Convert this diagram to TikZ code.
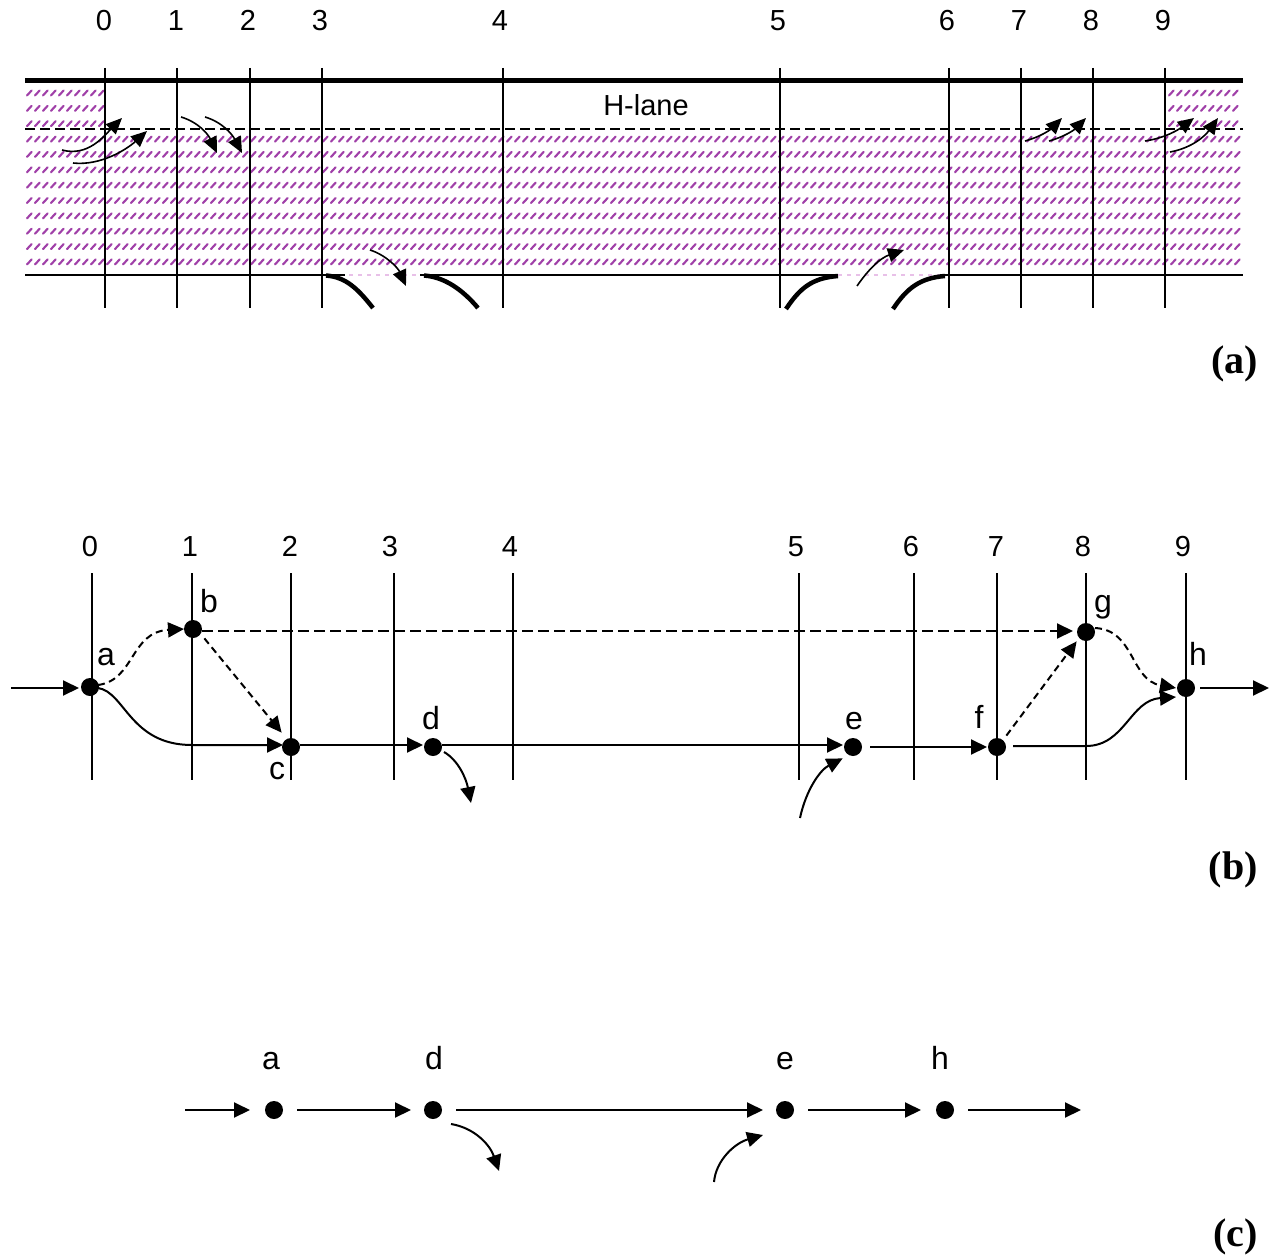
\documentclass[tikz,border=0pt]{standalone}
\usepackage{fontspec}
\setmainfont{Liberation Sans}
\newfontfamily\serifbold[Ligatures=TeX]{Liberation Serif}
\usetikzlibrary{arrows.meta}
\definecolor{hatchc}{HTML}{A040A8}
\definecolor{faintc}{HTML}{E8C0E8}
\tikzset{
  x=1pt,y=-1pt,
  lbl/.style={inner sep=0pt,anchor=base,font=\fontsize{29}{32}\selectfont},
  ltr/.style={inner sep=0pt,anchor=base,font=\fontsize{32}{34}\selectfont},
  panel/.style={inner sep=0pt,anchor=base east,font=\serifbold\bfseries\fontsize{40}{43}\selectfont},
  grid/.style={line width=2pt,black},
  dot/.style={circle,fill=black,draw=none,minimum size=18pt,inner sep=0pt,outer sep=0pt},
  flow/.style={line width=2pt,-{Triangle[length=16pt,width=15pt]}},
  dflow/.style={flow,dash pattern=on 7pt off 4.5pt},
  lflow/.style={flow,dash pattern=on 11pt off 5pt},
  mini/.style={line width=1.6pt,-{Triangle[length=16pt,width=14pt]}},
  hatch/.style={line width=2.1pt,hatchc,line cap=round},
}
\begin{document}
\begin{tikzpicture}
\useasboundingbox (0,0) rectangle (1270,1255);
% ---------- hatching (a)
\foreach \k in {0,1,2}{
  \pgfmathsetmacro{\yy}{93+15.36*\k}
  \foreach \xx in {27,35,...,99}{\draw[hatch] (\xx,\yy+2.5) -- (\xx+4.6,\yy-2.5);}
  \foreach \xx in {1169,1177,...,1237}{\draw[hatch] (\xx,\yy+2.5) -- (\xx+4.6,\yy-2.5);}
}
\foreach \k in {3,...,11}{
  \pgfmathsetmacro{\yy}{93+15.36*\k}
  \foreach \xx in {27,35,...,1237}{\draw[hatch] (\xx,\yy+2.5) -- (\xx+4.6,\yy-2.5);}
}
% ---------- road (a)
\draw[line width=5pt] (25,80.5) -- (1243,80.5);
\draw[line width=1.7pt,black,dash pattern=on 10pt off 5pt] (25,129) -- (1243,129);
\draw[line width=1.2pt,faintc,dash pattern=on 4pt off 5pt] (340,275) -- (420,275);
\draw[line width=1.2pt,faintc,dash pattern=on 4pt off 5pt] (838,275) -- (945,275);
\draw[line width=2pt] (25,275) -- (345,275);
\draw[line width=2pt] (420,275) -- (838,275);
\draw[line width=2pt] (945,275) -- (1243,275);
\draw[line width=4.5pt] (326,275.5) .. controls (346,277) and (358,289) .. (373,308);
\draw[line width=4.5pt] (424,275.5) .. controls (444,277) and (462,289) .. (478,308);
\draw[line width=4.5pt] (786,309) .. controls (800,288) and (812,278) .. (838,276);
\draw[line width=4.5pt] (893,309) .. controls (907,288) and (920,278) .. (945,276);
% ---------- section lines and numbers (a)
\foreach \i/\lx/\vx in {0/104/105,1/176/177,2/248/250,3/320/322,4/500/503,5/778/780,6/947/949,7/1019/1021,8/1091/1093,9/1163/1165}{
  \node[lbl] (topnum\i) at (\lx,31) {\i};
  \draw[grid] (\vx,68) -- (\vx,308);
}
\node[lbl] (hlane) at (646,115) {H-lane};
\draw[mini] (62,150) .. controls (88,157) and (104,136) .. (122,118);
\draw[mini] (73,163) .. controls (100,166) and (126,150) .. (147,131);
\draw[mini] (181,117) .. controls (198,122) and (208,134) .. (217,153);
\draw[mini] (205,117) .. controls (222,122) and (232,134) .. (242,153);
\draw[mini] (370,250) .. controls (386,255) and (398,268) .. (406,286);
\draw[mini] (857,286) .. controls (868,270) and (880,258) .. (904,250);
\draw[mini] (1025,141) .. controls (1040,137) and (1050,130) .. (1062,118);
\draw[mini] (1049,141) .. controls (1064,137) and (1074,130) .. (1086,118);
\draw[mini] (1145,141) .. controls (1165,138) and (1178,130) .. (1194,118);
\draw[mini] (1170,152) .. controls (1192,148) and (1205,136) .. (1218,118);
\node[panel] (pa) at (1258,373) {(a)};
% ---------- (b)
\foreach \i/\lx/\vx in {0/90/92,1/190/192,2/290/291,3/390/394,4/510/513,5/796/799,6/911/914,7/996/997,8/1083/1086,9/1183/1186}{
  \node[lbl] (midnum\i) at (\lx,556) {\i};
  \draw[grid] (\vx,573) -- (\vx,780);
}
\node[dot] (a) at (90,687) {};
\node[dot] (b) at (193,629) {};
\node[dot] (c) at (291,747) {};
\node[dot] (d) at (433,747) {};
\node[dot] (e) at (853,747) {};
\node[dot] (f) at (997,747) {};
\node[dot] (g) at (1086,632) {};
\node[dot] (h) at (1186,688) {};
\node[ltr] (la) at (106,665) {a};
\node[ltr] (lb) at (209,612) {b};
\node[ltr] (lc) at (277,779) {c};
\node[ltr] (ld) at (431,729) {d};
\node[ltr] (le) at (854,729) {e};
\node[ltr] (lf) at (979,728) {f};
\node[ltr] (lg) at (1103,612) {g};
\node[ltr] (lh) at (1198,665) {h};
\coordinate (inb) at (11,688);
\coordinate (outb) at (1269,688);
\coordinate (offb) at (471,803);
\coordinate (onb) at (800,818);
\draw[flow] (inb) -- ([xshift=-2pt]a.west |- inb);
\draw[dflow] ([shift={(8,-2)}]a.center) .. controls (135,680) and (130,632) .. ([xshift=0pt]b.west);
\draw[flow] ([shift={(8,1)}]a.center) .. controls (125,692) and (130,745) .. (192,745) -- ([shift={(1,-2)}]c.west);
\draw[dflow] ([shift={(5,3)}]b.south east) -- ([shift={(-3,-8)}]c.north west);
\draw[lflow] ([shift={(0,2)}]b.east) -- ([shift={(-4,-1)}]g.west);
\draw[flow] ([shift={(0,-2)}]c.east) -- ([shift={(-1,-2)}]d.west);
\draw[flow] ([shift={(0,-2)}]d.east) -- ([shift={(-1,-2)}]e.west);
\draw[flow] ([shift={(2,5)}]d.east) .. controls (458,760) and (466,778) .. (offb);
\draw[flow] (onb) .. controls (806,790) and (820,770) .. ([shift={(-4,5)}]e.south west);
\draw[flow] ([xshift=8pt]e.east) -- ([xshift=-1pt]f.west);
\draw[dflow] ([shift={(3,-5)}]f.north east) -- ([shift={(-3,3)}]g.south west);
\draw[flow] ([shift={(7,-1)}]f.east) -- (1086,746) .. controls (1125,746) and (1130,700) .. ([shift={(-1,9)}]h.west);
\draw[dflow] ([shift={(0,-4)}]g.east) .. controls (1135,630) and (1130,680) .. ([xshift=-1pt]h.west);
\draw[flow] ([xshift=5pt]h.east) -- (outb);
\node[panel] (pb) at (1258,879) {(b)};
% ---------- (c)
\node[dot] (a2) at (274,1110) {};
\node[dot] (d2) at (433,1110) {};
\node[dot] (e2) at (785,1110) {};
\node[dot] (h2) at (945,1110) {};
\node[ltr] (la2) at (271,1069) {a};
\node[ltr] (ld2) at (434,1069) {d};
\node[ltr] (le2) at (785,1069) {e};
\node[ltr] (lh2) at (940,1069) {h};
\coordinate (inc) at (185,1110);
\coordinate (outc) at (1081,1110);
\coordinate (offc) at (499,1171);
\coordinate (onc) at (714,1182);
\draw[flow] (inc) -- ([xshift=-15pt]a2.west);
\draw[flow] ([xshift=14pt]a2.east) -- ([xshift=-13pt]d2.west);
\draw[flow] ([xshift=14pt]d2.east) -- ([xshift=-13pt]e2.west);
\draw[flow] ([xshift=14pt]e2.east) -- ([xshift=-15pt]h2.west);
\draw[flow] ([xshift=14pt]h2.east) -- (outc);
\draw[flow] ([shift={(9,14)}]d2.east) .. controls (475,1128) and (490,1145) .. (offc);
\draw[flow] (onc) .. controls (716,1160) and (735,1143) .. ([shift={(-13,25)}]e2.west);
\node[panel] (pc) at (1258,1246) {(c)};
\end{tikzpicture}
\end{document}
